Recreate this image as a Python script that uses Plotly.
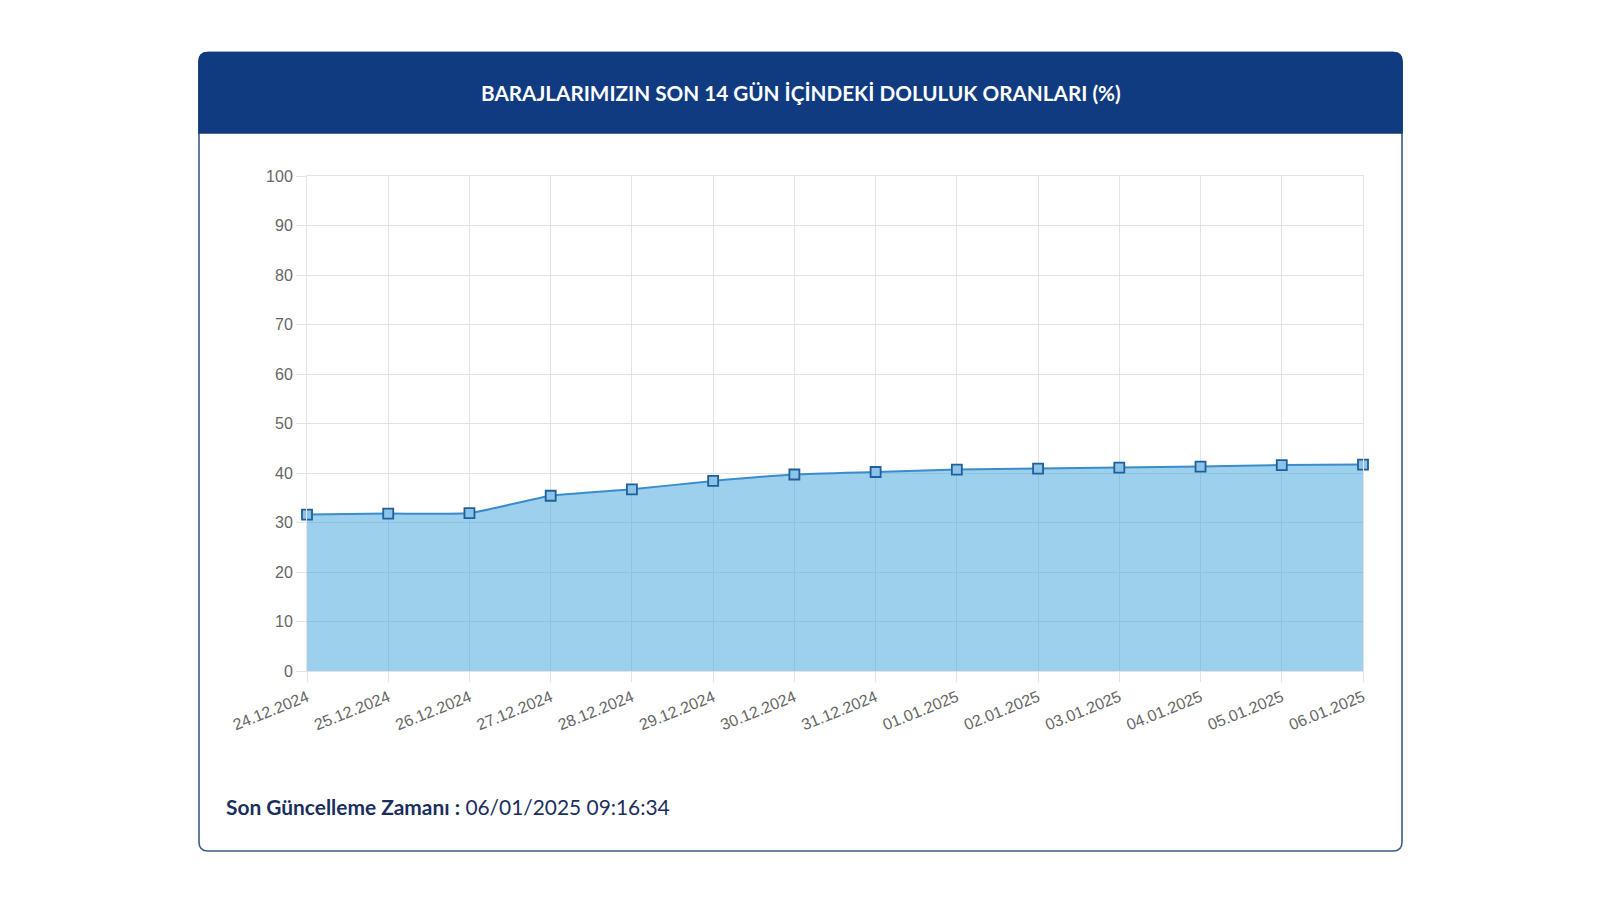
import plotly.graph_objects as go

dates = ["24.12.2024", "25.12.2024", "26.12.2024", "27.12.2024", "28.12.2024",
         "29.12.2024", "30.12.2024", "31.12.2024", "01.01.2025", "02.01.2025",
         "03.01.2025", "04.01.2025", "05.01.2025", "06.01.2025"]
doluluk = [31.6, 31.8, 31.9, 35.4, 36.7, 38.4, 39.7, 40.2, 40.7, 40.9, 41.1, 41.3, 41.6, 41.7]
y_ticks = [0, 10, 20, 30, 40, 50, 60, 70, 80, 90, 100]

title_text = "BARAJLARIMIZIN SON 14 GÜN İÇİNDEKİ DOLULUK ORANLARI (%)"
footer_label = "Son Güncelleme Zamanı :"
footer_value = "06/01/2025 09:16:34"

W, H = 1584, 884
L, R, T, B = 299, 1355, 168, 663  # plot area in figure pixels
PW, PH = R - L, B - T


def px(x):
    return (x - L) / PW


def py(y):
    return (B - y) / PH


def rounded_path(x0, y0, x1, y1, r, top=True, bottom=True):
    rx, ry = r / PW, r / PH
    X0, X1 = px(x0), px(x1)
    Yt, Yb = py(y0), py(y1)
    p = []
    if top:
        p.append(f"M {X0},{Yt - ry} Q {X0},{Yt} {X0 + rx},{Yt} L {X1 - rx},{Yt} Q {X1},{Yt} {X1},{Yt - ry}")
    else:
        p.append(f"M {X0},{Yt} L {X1},{Yt}")
    if bottom:
        p.append(f"L {X1},{Yb + ry} Q {X1},{Yb} {X1 - rx},{Yb} L {X0 + rx},{Yb} Q {X0},{Yb} {X0},{Yb + ry} Z")
    else:
        p.append(f"L {X1},{Yb} L {X0},{Yb} Z")
    return " ".join(p)


card_x0, card_y0, card_x1, card_y1 = 191, 44.5, 1394, 843
header_y1 = 125

fig = go.Figure()
fig.add_trace(go.Scatter(
    x=dates, y=doluluk, mode="lines+markers",
    line=dict(color="#3a8ccc", width=2, shape="spline", smoothing=0.5),
    fill="tozeroy", fillcolor="rgba(60,161,218,0.5)",
    marker=dict(symbol="square", size=10, color="#8cc3e8",
                line=dict(color="#1f5f9a", width=1.8)),
    cliponaxis=False,
    hoverinfo="x+y", showlegend=False,
))

fig.update_layout(
    width=W, height=H,
    margin=dict(l=L, r=W - R, t=T, b=H - B, pad=0),
    paper_bgcolor="white", plot_bgcolor="white",
    font=dict(family="Liberation Sans, Arial, sans-serif", size=16, color="#666666"),
    shapes=[
        dict(type="path", xref="paper", yref="paper", layer="below",
             path=rounded_path(card_x0, card_y0, card_x1, card_y1, 9),
             fillcolor="white", line=dict(color="#3d5a87", width=1.6)),
        dict(type="path", xref="paper", yref="paper", layer="below",
             path=rounded_path(card_x0, card_y0, card_x1, header_y1, 9, top=True, bottom=False),
             fillcolor="#103b80", line=dict(color="#103b80", width=1.6)),
    ],
    annotations=[
        dict(text=f"<b>{title_text}</b>", xref="paper", yref="paper",
             x=px((card_x0 + card_x1) / 2), y=py(85), xanchor="center", yanchor="middle",
             showarrow=False, font=dict(family="Lato, sans-serif", size=20.7, color="white")),
        dict(text=f"<b>{footer_label}</b> {footer_value}", xref="paper", yref="paper",
             x=px(216), y=py(798), xanchor="left", yanchor="middle",
             showarrow=False, font=dict(family="Lato, sans-serif", size=20.9, color="#1b2f5e")),
    ],
)

fig.update_xaxes(
    type="category", range=[0, len(dates) - 1], tickangle=-22,
    showgrid=True, gridcolor="#e3e3e3", gridwidth=1,
    ticks="outside", ticklen=10, tickcolor="#e3e3e3",
    showline=True, linecolor="#e3e3e3", mirror=True,
    tickfont=dict(size=16, color="#666666"),
)
fig.update_yaxes(
    range=[0, 100], tickvals=y_ticks,
    showgrid=True, gridcolor="#e3e3e3", gridwidth=1,
    ticks="outside", ticklen=10, tickcolor="#e3e3e3",
    showline=True, linecolor="#e3e3e3", mirror=True, zeroline=False,
    tickfont=dict(size=16, color="#666666"),
)

fig.write_html("out.html")
